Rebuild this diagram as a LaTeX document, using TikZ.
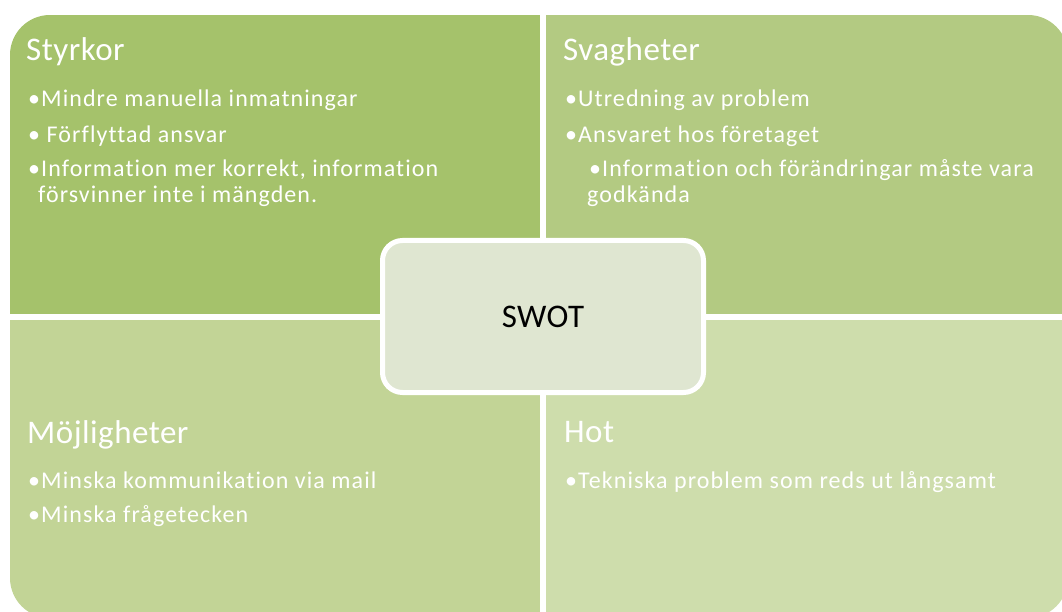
\documentclass[tikz,border=0pt]{standalone}
\usepackage{fontspec}
\setmainfont{Carlito}
\newfontfamily\itemfont[LetterSpace=4.5,Ligatures=NoCommon]{Carlito}
\newfontfamily\titlefont[LetterSpace=1.5,Ligatures=NoCommon]{Carlito}
\definecolor{qtl}{HTML}{A5C26B}
\definecolor{qtr}{HTML}{B3CA82}
\definecolor{qbl}{HTML}{C2D496}
\definecolor{qbr}{HTML}{CEDDAC}
\definecolor{qc}{HTML}{DFE6D1}
\begin{document}
\begin{tikzpicture}[x=1pt,y=-1pt,
  title/.style={anchor=base west,inner sep=0pt,text=white,font=\titlefont\fontsize{33}{40}\selectfont},
  item/.style={anchor=base west,inner sep=0pt,text=white,font=\itemfont\fontsize{24}{29}\selectfont},
  centerbox/.style={draw=white,line width=5pt,fill=qc,rounded corners=20pt,minimum width=321pt,minimum height=152pt,inner sep=0pt,font=\titlefont\fontsize{33}{40}\selectfont,text=black}]
\useasboundingbox (0,0) rectangle (1062,612);
\begin{scope}
\clip[rounded corners=40pt] (10,15) rectangle (1068,618);
\fill[qtl] (10,15) rectangle (540,314);
\fill[qtr] (545.5,15) rectangle (1068,314);
\fill[qbl] (10,319.5) rectangle (540,618);
\fill[qbr] (545.5,319.5) rectangle (1068,618);
\end{scope}
% Styrkor
\node[title] (s) at (26,61) {Styrkor};
\node[item] (s1) at (28,107) {•Mindre manuella inmatningar};
\node[item] (s2) at (28,143) {• Förflyttad ansvar};
\node[item] (s3) at (28,177) {•Information mer korrekt, information};
\node[item] (s4) at (38,203) {försvinner inte i mängden.};
% Svagheter
\node[title] (w) at (563,61) {Svagheter};
\node[item] (w1) at (565,107) {•Utredning av problem};
\node[item] (w2) at (565,143) {•Ansvaret hos företaget};
\node[item] (w3) at (589,177) {•Information och förändringar måste vara};
\node[item] (w4) at (587,203) {godkända};
% Möjligheter
\node[title] (o) at (27,443) {Möjligheter};
\node[item] (o1) at (28,488) {•Minska kommunikation via mail};
\node[item] (o2) at (28,522) {•Minska frågetecken};
% Hot
\node[title] (t) at (564,442) {Hot};
\node[item] (t1) at (565,488) {•Tekniska problem som reds ut långsamt};
% centre
\node[centerbox] (c) at (543,316.5) {SWOT};
\end{tikzpicture}
\end{document}
